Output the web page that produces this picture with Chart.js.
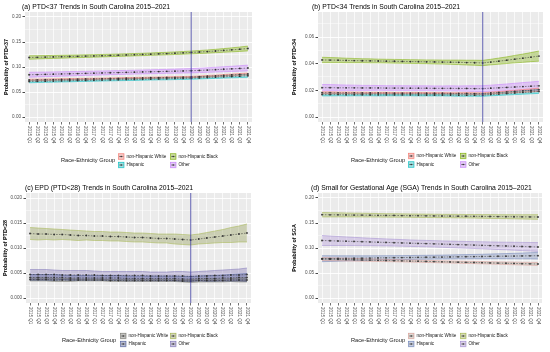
<!DOCTYPE html>
<html>
<head>
<meta charset="utf-8">
<script src="https://cdn.jsdelivr.net/npm/chart.js@4.4.1/dist/chart.umd.min.js"></script>
<style>
	html, body { margin: 0; padding: 0; background: #fff; }
	#wrap { position: relative; width: 550px; height: 352px; }
	#wrap canvas { position: absolute; }
</style>
</head>
<body>
<div id="wrap">
	<canvas id="chartA" width="275" height="176" style="left:0;top:0"></canvas>
	<canvas id="chartB" width="275" height="176" style="left:275px;top:0"></canvas>
	<canvas id="chartC" width="275" height="176" style="left:0;top:176px"></canvas>
	<canvas id="chartD" width="275" height="176" style="left:275px;top:176px"></canvas>
</div>
<script>
var quarters = ['2015 Q1','2015 Q2','2015 Q3','2015 Q4','2016 Q1','2016 Q2','2016 Q3','2016 Q4',
	'2017 Q1','2017 Q2','2017 Q3','2017 Q4','2018 Q1','2018 Q2','2018 Q3','2018 Q4',
	'2019 Q1','2019 Q2','2019 Q3','2019 Q4','2020 Q1','2020 Q2','2020 Q3','2020 Q4',
	'2021 Q1','2021 Q2','2021 Q3','2021 Q4'];
var groups = ['non-Hispanic White', 'non-Hispanic Black', 'Hispanic', 'Other'];
var covidQuarter = '2020 Q1';

// (a) PTD<37 : estimate and CI half-width per group
var aWhite = [0.0740,0.0743,0.0746,0.0749,0.0752,0.0755,0.0758,0.0761,0.0764,0.0767,0.0770,0.0773,0.0776,0.0779,0.0782,0.0785,0.0788,0.0791,0.0794,0.0797,0.0800,0.0808,0.0816,0.0824,0.0833,0.0842,0.0851,0.0860];
var aWhiteCI = [0.0016,0.0015,0.0015,0.0014,0.0014,0.0013,0.0013,0.0013,0.0012,0.0012,0.0012,0.0012,0.0012,0.0012,0.0012,0.0012,0.0012,0.0012,0.0013,0.0013,0.0013,0.0014,0.0014,0.0015,0.0016,0.0017,0.0018,0.0019];
var aBlack = [0.1190,0.1194,0.1198,0.1202,0.1206,0.1210,0.1214,0.1218,0.1222,0.1226,0.1231,0.1236,0.1241,0.1246,0.1251,0.1257,0.1263,0.1269,0.1276,0.1283,0.1291,0.1300,0.1309,0.1320,0.1331,0.1343,0.1356,0.1370];
var aBlackCI = [0.0035,0.0033,0.0031,0.0030,0.0029,0.0028,0.0027,0.0026,0.0025,0.0025,0.0024,0.0024,0.0024,0.0024,0.0024,0.0024,0.0025,0.0025,0.0026,0.0027,0.0028,0.0030,0.0032,0.0034,0.0037,0.0040,0.0044,0.0048];
var aHisp = [0.0710,0.0713,0.0716,0.0719,0.0722,0.0725,0.0729,0.0732,0.0735,0.0738,0.0742,0.0745,0.0748,0.0751,0.0755,0.0758,0.0761,0.0764,0.0768,0.0771,0.0775,0.0782,0.0789,0.0796,0.0803,0.0810,0.0817,0.0825];
var aHispCI = [0.0025,0.0024,0.0023,0.0022,0.0021,0.0021,0.0020,0.0020,0.0019,0.0019,0.0019,0.0019,0.0019,0.0019,0.0019,0.0019,0.0019,0.0020,0.0020,0.0020,0.0021,0.0022,0.0023,0.0024,0.0025,0.0026,0.0028,0.0030];
var aOther = [0.0845,0.0849,0.0853,0.0857,0.0861,0.0865,0.0869,0.0873,0.0877,0.0881,0.0885,0.0889,0.0893,0.0897,0.0901,0.0905,0.0909,0.0913,0.0917,0.0921,0.0925,0.0932,0.0939,0.0947,0.0955,0.0963,0.0971,0.0980];
var aOtherCI = [0.0050,0.0048,0.0046,0.0045,0.0044,0.0043,0.0042,0.0041,0.0040,0.0040,0.0039,0.0039,0.0039,0.0039,0.0039,0.0039,0.0040,0.0040,0.0041,0.0042,0.0043,0.0044,0.0046,0.0048,0.0050,0.0052,0.0055,0.0058];

// (b) PTD<34
var bWhite = [0.0182,0.0182,0.0181,0.0181,0.0181,0.0180,0.0180,0.0180,0.0180,0.0179,0.0179,0.0179,0.0179,0.0178,0.0178,0.0178,0.0177,0.0177,0.0177,0.0176,0.0176,0.0180,0.0184,0.0188,0.0192,0.0196,0.0200,0.0205];
var bWhiteCI = [0.0007,0.0007,0.0006,0.0006,0.0006,0.0006,0.0005,0.0005,0.0005,0.0005,0.0005,0.0005,0.0005,0.0005,0.0005,0.0005,0.0005,0.0005,0.0006,0.0006,0.0006,0.0007,0.0007,0.0008,0.0009,0.0010,0.0011,0.0012];
var bBlack = [0.0428,0.0427,0.0426,0.0424,0.0423,0.0422,0.0421,0.0420,0.0419,0.0418,0.0417,0.0416,0.0415,0.0414,0.0413,0.0412,0.0411,0.0410,0.0408,0.0407,0.0405,0.0412,0.0419,0.0426,0.0434,0.0441,0.0449,0.0457];
var bBlackCI = [0.0020,0.0019,0.0018,0.0017,0.0016,0.0015,0.0015,0.0014,0.0014,0.0014,0.0014,0.0014,0.0014,0.0014,0.0015,0.0015,0.0016,0.0017,0.0018,0.0019,0.0020,0.0021,0.0023,0.0025,0.0028,0.0031,0.0034,0.0038];
var bHisp = [0.0168,0.0168,0.0168,0.0167,0.0167,0.0167,0.0167,0.0166,0.0166,0.0166,0.0166,0.0166,0.0165,0.0165,0.0165,0.0165,0.0165,0.0164,0.0164,0.0164,0.0164,0.0168,0.0172,0.0176,0.0180,0.0184,0.0188,0.0192];
var bHispCI = [0.0010,0.0010,0.0009,0.0009,0.0008,0.0008,0.0008,0.0008,0.0007,0.0007,0.0007,0.0007,0.0007,0.0007,0.0007,0.0007,0.0008,0.0008,0.0008,0.0008,0.0009,0.0009,0.0010,0.0011,0.0012,0.0013,0.0014,0.0015];
var bOther = [0.0220,0.0220,0.0219,0.0219,0.0219,0.0218,0.0218,0.0218,0.0217,0.0217,0.0217,0.0216,0.0216,0.0216,0.0215,0.0215,0.0215,0.0214,0.0214,0.0213,0.0213,0.0216,0.0219,0.0222,0.0225,0.0228,0.0231,0.0234];
var bOtherCI = [0.0024,0.0023,0.0022,0.0021,0.0020,0.0019,0.0019,0.0018,0.0018,0.0018,0.0018,0.0018,0.0018,0.0018,0.0018,0.0018,0.0019,0.0019,0.0020,0.0021,0.0022,0.0023,0.0024,0.0026,0.0028,0.0030,0.0032,0.0034];

// (c) EPD (PTD<28)
var cWhite = [0.0037,0.0037,0.0037,0.0036,0.0036,0.0036,0.0036,0.0036,0.0036,0.0036,0.0035,0.0035,0.0035,0.0035,0.0035,0.0035,0.0035,0.0035,0.0035,0.0034,0.0034,0.0035,0.0035,0.0035,0.0035,0.0036,0.0036,0.0036];
var cWhiteCI = [0.0003,0.0003,0.0003,0.0003,0.0003,0.0003,0.0002,0.0002,0.0002,0.0002,0.0002,0.0002,0.0002,0.0002,0.0002,0.0002,0.0002,0.0002,0.0002,0.0002,0.0003,0.0003,0.0003,0.0003,0.0003,0.0003,0.0004,0.0004];
var cBlack = [0.0129,0.0128,0.0128,0.0127,0.0127,0.0126,0.0125,0.0125,0.0124,0.0124,0.0123,0.0123,0.0122,0.0121,0.0121,0.0120,0.0119,0.0119,0.0118,0.0117,0.0116,0.0118,0.0120,0.0122,0.0124,0.0126,0.0128,0.0130];
var cBlackCI = [0.0012,0.0012,0.0011,0.0011,0.0010,0.0010,0.0010,0.0009,0.0009,0.0009,0.0009,0.0009,0.0009,0.0009,0.0009,0.0009,0.0009,0.0009,0.0010,0.0010,0.0010,0.0010,0.0011,0.0012,0.0013,0.0015,0.0016,0.0018];
var cHisp = [0.0041,0.0041,0.0041,0.0041,0.0041,0.0040,0.0040,0.0040,0.0040,0.0040,0.0040,0.0040,0.0039,0.0039,0.0039,0.0039,0.0039,0.0039,0.0039,0.0038,0.0038,0.0039,0.0039,0.0039,0.0040,0.0040,0.0041,0.0041];
var cHispCI = [0.0006,0.0006,0.0006,0.0006,0.0005,0.0005,0.0005,0.0005,0.0005,0.0005,0.0005,0.0005,0.0005,0.0005,0.0005,0.0005,0.0005,0.0005,0.0005,0.0005,0.0005,0.0005,0.0006,0.0006,0.0006,0.0007,0.0007,0.0008];
var cOther = [0.0047,0.0047,0.0047,0.0047,0.0046,0.0046,0.0046,0.0046,0.0046,0.0045,0.0045,0.0045,0.0045,0.0045,0.0045,0.0044,0.0044,0.0044,0.0044,0.0044,0.0043,0.0044,0.0044,0.0045,0.0045,0.0046,0.0046,0.0047];
var cOtherCI = [0.0010,0.0010,0.0010,0.0009,0.0009,0.0009,0.0009,0.0009,0.0008,0.0008,0.0008,0.0008,0.0008,0.0008,0.0008,0.0008,0.0008,0.0008,0.0009,0.0009,0.0009,0.0009,0.0010,0.0010,0.0011,0.0011,0.0012,0.0013];

// (d) SGA
var dWhite = [0.0780,0.0776,0.0773,0.0769,0.0765,0.0761,0.0758,0.0754,0.0750,0.0747,0.0743,0.0739,0.0736,0.0732,0.0728,0.0724,0.0721,0.0717,0.0713,0.0710,0.0706,0.0702,0.0698,0.0695,0.0691,0.0687,0.0684,0.0680];
var dWhiteCI = [0.0030,0.0029,0.0028,0.0027,0.0026,0.0025,0.0024,0.0023,0.0022,0.0022,0.0021,0.0021,0.0021,0.0021,0.0021,0.0021,0.0021,0.0021,0.0022,0.0022,0.0023,0.0023,0.0024,0.0025,0.0026,0.0027,0.0028,0.0029];
var dBlack = [0.1666,0.1664,0.1663,0.1661,0.1659,0.1658,0.1656,0.1654,0.1652,0.1651,0.1649,0.1647,0.1646,0.1644,0.1642,0.1640,0.1639,0.1637,0.1635,0.1634,0.1632,0.1630,0.1628,0.1627,0.1625,0.1623,0.1622,0.1620];
var dBlackCI = [0.0045,0.0043,0.0042,0.0040,0.0039,0.0038,0.0037,0.0036,0.0035,0.0035,0.0034,0.0034,0.0034,0.0034,0.0034,0.0034,0.0034,0.0035,0.0035,0.0036,0.0037,0.0038,0.0039,0.0040,0.0042,0.0043,0.0045,0.0047];
var dHisp = [0.0786,0.0788,0.0790,0.0793,0.0795,0.0797,0.0799,0.0802,0.0804,0.0806,0.0808,0.0810,0.0813,0.0815,0.0817,0.0819,0.0821,0.0824,0.0826,0.0828,0.0830,0.0833,0.0835,0.0837,0.0839,0.0841,0.0844,0.0846];
var dHispCI = [0.0060,0.0057,0.0054,0.0051,0.0049,0.0047,0.0045,0.0043,0.0042,0.0041,0.0040,0.0039,0.0039,0.0039,0.0039,0.0039,0.0040,0.0041,0.0042,0.0043,0.0045,0.0047,0.0049,0.0052,0.0055,0.0058,0.0062,0.0066];
var dOther = [0.1150,0.1145,0.1140,0.1136,0.1131,0.1126,0.1121,0.1116,0.1112,0.1107,0.1102,0.1097,0.1092,0.1088,0.1083,0.1078,0.1073,0.1068,0.1064,0.1059,0.1054,0.1049,0.1044,0.1040,0.1035,0.1030,0.1025,0.1020];
var dOtherCI = [0.0100,0.0095,0.0090,0.0086,0.0082,0.0078,0.0075,0.0072,0.0070,0.0068,0.0066,0.0065,0.0064,0.0064,0.0064,0.0064,0.0065,0.0066,0.0067,0.0068,0.0070,0.0072,0.0074,0.0076,0.0079,0.0082,0.0085,0.0088];

var FONT = '"Liberation Sans", Arial, Helvetica, sans-serif';

// ggplot hue palette (a, b) and the muted palettes used in (c, d)
var palHue = [
	{ line: '#F8766D', fill: 'rgba(248,118,109,0.35)' },
	{ line: '#7CAE00', fill: 'rgba(124,174,0,0.35)' },
	{ line: '#00BFC4', fill: 'rgba(0,191,196,0.35)' },
	{ line: '#C77CFF', fill: 'rgba(199,124,255,0.35)' }
];
var palMuted = [
	{ line: '#7a7a72', fill: 'rgba(95,95,90,0.32)' },
	{ line: '#a3b548', fill: 'rgba(150,160,90,0.38)' },
	{ line: '#4d5f9e', fill: 'rgba(55,70,140,0.32)' },
	{ line: '#7f74b8', fill: 'rgba(105,90,170,0.3)' }
];
var palSga = [
	{ line: '#e09a94', fill: 'rgba(170,150,130,0.28)' },
	{ line: '#a3b548', fill: 'rgba(155,175,70,0.35)' },
	{ line: '#6a80b8', fill: 'rgba(70,100,170,0.25)' },
	{ line: '#a08ad0', fill: 'rgba(150,110,210,0.25)' }
];

Chart.defaults.font.family = FONT;
Chart.defaults.animation = false;

var decorPlugin = {
	id: 'decor',
	beforeDraw: function(chart) {
		var a = chart.chartArea, ctx = chart.ctx;
		ctx.save();
		ctx.fillStyle = '#EBEBEB';
		ctx.fillRect(a.left, a.top, a.right - a.left, a.bottom - a.top);
		ctx.restore();
	},
	afterDatasetsDraw: function(chart, args, opts) {
		if (opts.vline == null) return;
		var a = chart.chartArea, ctx = chart.ctx;
		var x = chart.scales.x.getPixelForValue(quarters.indexOf(opts.vline));
		ctx.save();
		ctx.strokeStyle = '#3b3b9e';
		ctx.lineWidth = 0.8;
		ctx.beginPath();
		ctx.moveTo(x, a.top);
		ctx.lineTo(x, a.bottom);
		ctx.stroke();
		ctx.restore();
	},
	afterDraw: function(chart, args, opts) {
		var ctx = chart.ctx, a = chart.chartArea, xs = chart.scales.x;
		ctx.save();
		ctx.textBaseline = 'middle';
		ctx.textAlign = 'left';

		// panel title
		ctx.fillStyle = '#000';
		ctx.font = '6.8px ' + FONT;
		ctx.fillText(opts.title, opts.titleX, opts.titleY);

		// x tick labels, read top to bottom
		ctx.fillStyle = '#4D4D4D';
		ctx.font = '4.5px ' + FONT;
		quarters.forEach(function(q, i) {
			var x = xs.getPixelForTick(i);
			ctx.save();
			ctx.translate(x, a.bottom + 4);
			ctx.rotate(Math.PI / 2);
			ctx.fillText(q, 0, 0.2);
			ctx.restore();
		});

		// legend
		var L = opts.legend;
		ctx.fillStyle = '#1a1a1a';
		ctx.font = '5.7px ' + FONT;
		ctx.fillText('Race-Ethnicity Group', L.x, (L.rows[0] + L.rows[1]) / 2);
		ctx.font = '4.6px ' + FONT;
		groups.forEach(function(g, k) {
			var kx = L.cols[k % 2], ky = L.rows[Math.floor(k / 2)];
			var col = opts.palette[k], s = 6.4;
			ctx.fillStyle = '#F2F2F2';
			ctx.fillRect(kx, ky - s / 2, s, s);
			ctx.fillStyle = col.fill;
			ctx.fillRect(kx, ky - s / 2, s, s);
			ctx.strokeStyle = col.line;
			ctx.lineWidth = 0.5;
			ctx.strokeRect(kx + 0.5, ky - s / 2 + 0.5, s - 1, s - 1);
			ctx.strokeStyle = '#444';
			ctx.beginPath();
			ctx.moveTo(kx + 1, ky);
			ctx.lineTo(kx + s - 1, ky);
			ctx.stroke();
			ctx.fillStyle = '#333';
			ctx.beginPath();
			ctx.arc(kx + s / 2, ky, 0.8, 0, Math.PI * 2);
			ctx.fill();
			ctx.fillStyle = '#1a1a1a';
			ctx.fillText(g, kx + s + 2, ky);
		});
		ctx.restore();
	}
};

var makePanel = function(id, series, cis, cfg) {
	var datasets = [];
	// estimate lines first so they are painted on top
	series.forEach(function(m) {
		datasets.push({
			data: m,
			borderColor: 'rgba(45,45,45,0.85)',
			borderWidth: 0.6,
			borderDash: [1.6, 1.3],
			pointRadius: 0.9,
			pointBorderWidth: 0,
			pointBackgroundColor: '#333',
			fill: false
		});
	});
	series.forEach(function(m, k) {
		var ci = cis[k], col = cfg.palette[k];
		datasets.push({
			data: m.map(function(v, i) { return v + ci[i]; }),
			borderColor: col.line,
			borderWidth: 0.5,
			pointRadius: 0,
			fill: false
		});
		datasets.push({
			data: m.map(function(v, i) { return v - ci[i]; }),
			borderColor: col.line,
			borderWidth: 0.5,
			pointRadius: 0,
			backgroundColor: col.fill,
			fill: datasets.length - 1
		});
	});

	return new Chart(document.getElementById(id), {
		type: 'line',
		data: { labels: quarters, datasets: datasets },
		plugins: [decorPlugin],
		options: {
			responsive: false,
			devicePixelRatio: 1,
			events: [],
			layout: { padding: cfg.pad },
			plugins: {
				legend: { display: false },
				tooltip: { enabled: false },
				decor: {
					title: cfg.title, titleX: cfg.titleX, titleY: cfg.titleY,
					vline: cfg.vline, palette: cfg.palette, legend: cfg.legend
				}
			},
			scales: {
				x: {
					type: 'category',
					offset: true,
					border: { display: false },
					grid: { offset: false, color: '#FFFFFF', lineWidth: 0.7, tickLength: 2.5, tickColor: '#333' },
					ticks: { display: false },
					afterFit: function(s) { s.height = 3; }
				},
				y: {
					min: cfg.min,
					max: cfg.max,
					border: { display: false },
					grid: {
						color: '#FFFFFF',
						lineWidth: function(c) { return c.index % 2 ? 0.45 : 0.9; },
						tickLength: 2.5,
						tickColor: function(c) { return c.index % 2 ? 'rgba(0,0,0,0)' : '#333'; }
					},
					ticks: {
						stepSize: cfg.step,
						includeBounds: false,
						autoSkip: false,
						padding: 1.5,
						color: '#4D4D4D',
						font: { size: 4.6 },
						callback: function(v, i) { return i % 2 ? '' : v.toFixed(cfg.dec); }
					},
					title: {
						display: true,
						text: cfg.yTitle,
						color: '#000',
						font: { size: 5.4, weight: 'bold' },
						padding: { top: 1, bottom: 0 }
					},
					afterFit: function(s) { s.width = cfg.yWidth; }
				}
			}
		}
	});
};

var chartA = makePanel('chartA', [aWhite, aBlack, aHisp, aOther], [aWhiteCI, aBlackCI, aHispCI, aOtherCI], {
	title: '(a) PTD<37 Trends in South Carolina 2015–2021', titleX: 22, titleY: 7,
	yTitle: 'Probability of PTD<37', min: -0.01, max: 0.21, step: 0.025, dec: 2,
	pad: { left: 2, right: 23, top: 12, bottom: 51 }, yWidth: 23,
	vline: covidQuarter, palette: palHue,
	legend: { x: 61, cols: [118, 170], rows: [156.5, 165] }
});

var chartB = makePanel('chartB', [bWhite, bBlack, bHisp, bOther], [bWhiteCI, bBlackCI, bHispCI, bOtherCI], {
	title: '(b) PTD<34 Trends in South Carolina 2015–2021', titleX: 37, titleY: 7,
	yTitle: 'Probability of PTD<34', min: -0.00375, max: 0.07875, step: 0.01, dec: 2,
	pad: { left: 15, right: 7, top: 12, bottom: 51 }, yWidth: 28,
	vline: covidQuarter, palette: palHue,
	legend: { x: 76, cols: [133, 185], rows: [156, 164.5] }
});

var chartC = makePanel('chartC', [cWhite, cBlack, cHisp, cOther], [cWhiteCI, cBlackCI, cHispCI, cOtherCI], {
	title: '(c) EPD (PTD<28) Trends in South Carolina 2015–2021', titleX: 25, titleY: 12,
	yTitle: 'Probability of PTD<28', min: -0.001, max: 0.021, step: 0.0025, dec: 3,
	pad: { left: 1, right: 24, top: 17, bottom: 46 }, yWidth: 25,
	vline: covidQuarter, palette: palMuted,
	legend: { x: 62, cols: [120, 170], rows: [160, 168] }
});

var chartD = makePanel('chartD', [dWhite, dBlack, dHisp, dOther], [dWhiteCI, dBlackCI, dHispCI, dOtherCI], {
	title: '(d) Small for Gestational Age (SGA) Trends in South Carolina 2015–2021', titleX: 36, titleY: 12.5,
	yTitle: 'Probability of SGA', min: -0.01, max: 0.21, step: 0.025, dec: 2,
	pad: { left: 15, right: 8, top: 17, bottom: 46 }, yWidth: 28,
	vline: null, palette: palSga,
	legend: { x: 76, cols: [133, 185], rows: [160, 168] }
});
</script>
</body>
</html>
